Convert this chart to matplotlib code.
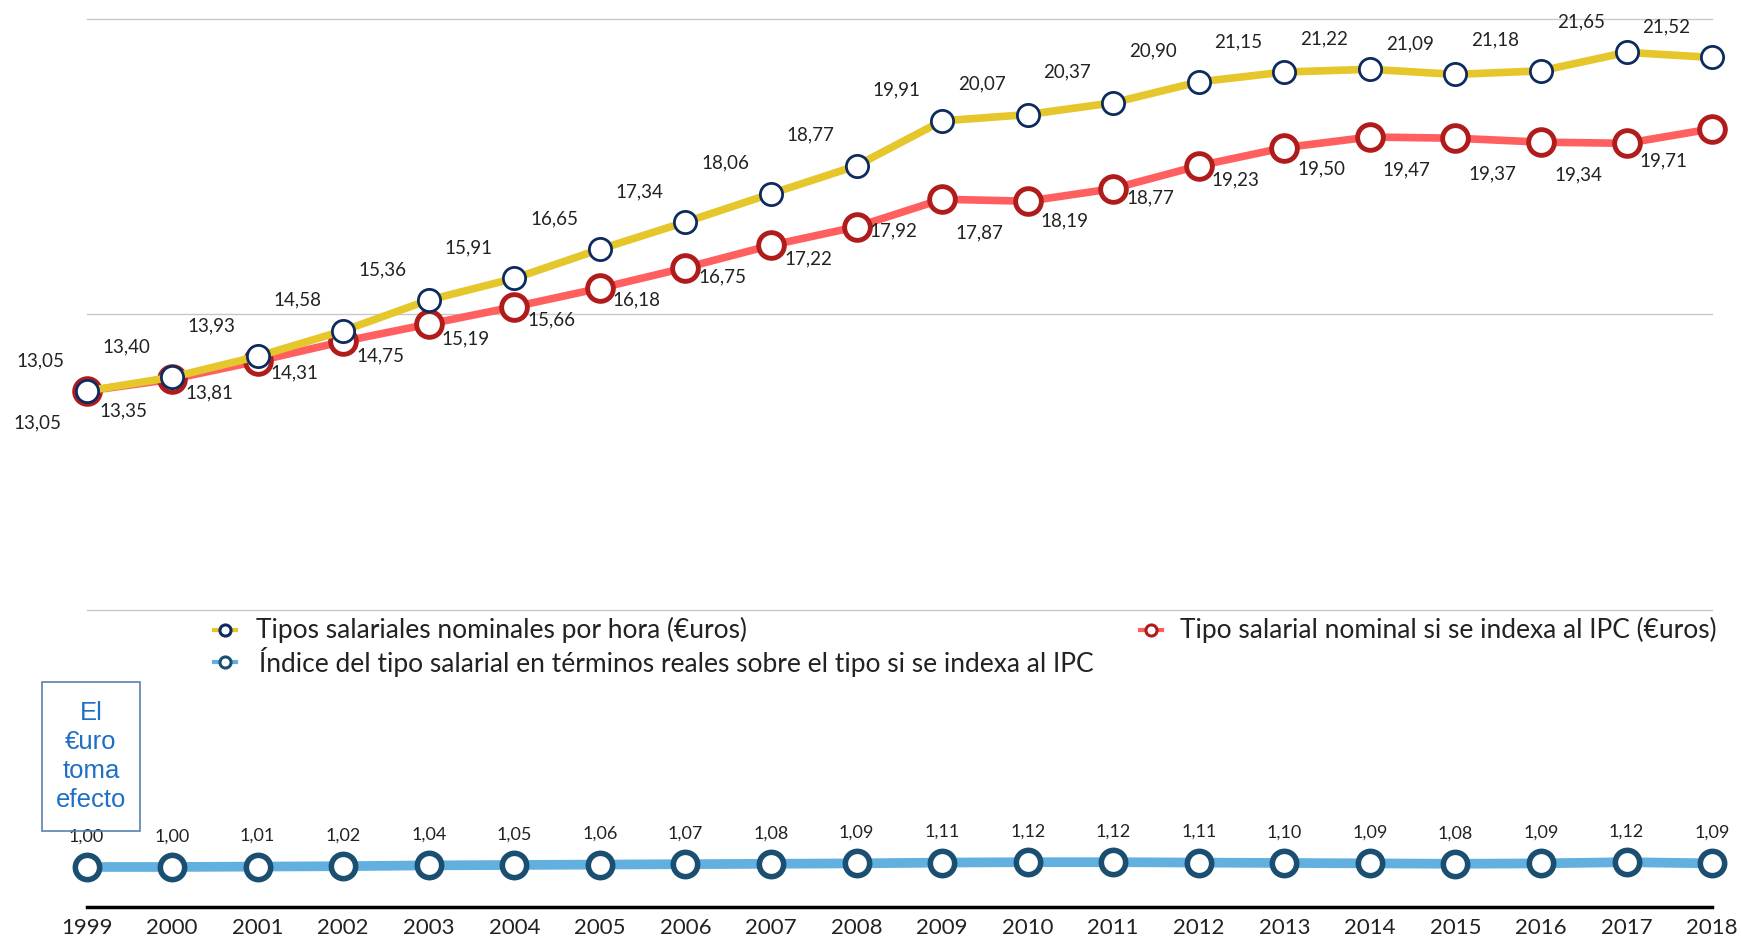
import matplotlib.pyplot as plt
from matplotlib.lines import Line2D
from matplotlib.patches import Rectangle

plt.rcParams['font.family'] = ['Lato', 'DejaVu Sans']

years = list(range(1999, 2019))
nominal = [13.05, 13.40, 13.93, 14.58, 15.36, 15.91, 16.65, 17.34, 18.06, 18.77,
           19.91, 20.07, 20.37, 20.90, 21.15, 21.22, 21.09, 21.18, 21.65, 21.52]
indexado = [13.05, 13.35, 13.81, 14.31, 14.75, 15.19, 15.66, 16.18, 16.75, 17.22,
            17.92, 17.87, 18.19, 18.77, 19.23, 19.50, 19.47, 19.37, 19.34, 19.71]
indice = [1.00, 1.00, 1.01, 1.02, 1.04, 1.05, 1.06, 1.07, 1.08, 1.09,
          1.11, 1.12, 1.12, 1.11, 1.10, 1.09, 1.08, 1.09, 1.12, 1.09]

lab_nom = "Tipos salariales nominales por hora (€uros)"
lab_ipc = "Tipo salarial nominal si se indexa al IPC (€uros)"
lab_ind = "Índice del tipo salarial en términos reales sobre el tipo si se indexa al IPC"

c_yel = '#e5c62b'
c_navy = '#0d2b5e'
c_red = '#ff5f5f'
c_dred = '#b01c1c'
c_blue = '#62b0df'
c_teal = '#1b4f72'
c_txt = '#222222'

fig = plt.figure(figsize=(17.41, 9.39), dpi=100)

# top panel
ax = fig.add_axes([0.0497, 0.3508, 0.9337, 0.6291])
ax.set_xlim(1999, 2018)
ax.set_ylim(7.5, 22.5)
for g in [7.5, 15, 22.5]:
    ax.axhline(g, color='#c8c8c8', lw=1, zorder=0, clip_on=False)
ax.plot(years, indexado, color=c_red, lw=5.5, marker='o', ms=18.5, mfc='white',
        mec=c_dred, mew=3.5, clip_on=False, zorder=3)
ax.plot(years, nominal, color=c_yel, lw=5.5, marker='o', ms=16, mfc='white',
        mec=c_navy, mew=2, clip_on=False, zorder=4)
for x, v in zip(years, nominal):
    ax.annotate(f"{v:.2f}".replace('.', ','), (x, v), xytext=(-33, 22),
                textcoords='offset points', ha='center', va='center',
                fontsize=13.5, color=c_txt)
for x, v in zip(years, indexado):
    ax.annotate(f"{v:.2f}".replace('.', ','), (x, v), xytext=(-35, -23),
                textcoords='offset points', ha='center', va='center',
                fontsize=13.5, color=c_txt)
ax.axis('off')

# bottom panel
ax2 = fig.add_axes([0.0497, 0.0341, 0.9337, 0.213])
ax2.set_xlim(1999, 2018)
ax2.set_ylim(0, 5)
ax2.plot(years, indice, color=c_blue, lw=7, marker='o', ms=17.5, mfc='white',
         mec=c_teal, mew=4, clip_on=False, zorder=3)
for x, v in zip(years, indice):
    ax2.annotate(f"{v:.2f}".replace('.', ','), (x, v), xytext=(0, 22),
                 textcoords='offset points', ha='center', va='center',
                 fontsize=13, color=c_txt)
for s in ['top', 'left', 'right']:
    ax2.spines[s].set_visible(False)
ax2.spines['bottom'].set_linewidth(2.5)
ax2.spines['bottom'].set_color('black')
ax2.set_yticks([])
ax2.set_xticks(years)
ax2.tick_params(axis='x', length=0, pad=8, labelsize=16, labelcolor=c_txt)

# legend, drawn by hand
def leg_entry(x, y, line_c, edge_c, text, tx):
    fig.add_artist(Line2D([x - 0.0062, x + 0.0062], [y, y], transform=fig.transFigure,
                          color=line_c, lw=3))
    fig.add_artist(Line2D([x], [y], transform=fig.transFigure, marker='o', ms=8,
                          mfc='white', mec=edge_c, mew=2.2, lw=0))
    fig.text(tx, y, text, ha='left', va='center', fontsize=19, color=c_txt)

leg_entry(225 / 1741, 1 - 630 / 939, c_yel, c_navy, lab_nom, 256 / 1741)
leg_entry(1151 / 1741, 1 - 630 / 939, c_red, c_dred, lab_ipc, 1180 / 1741)
leg_entry(225 / 1741, 1 - 662 / 939, c_blue, c_teal, lab_ind, 259 / 1741)

# euro box
bx0, by0, bw, bh = 42 / 1741, 1 - 831 / 939, 98 / 1741, 149 / 939
fig.add_artist(Rectangle((bx0, by0), bw, bh, transform=fig.transFigure,
                         facecolor='none', edgecolor='#5b7fb0', lw=1.2, zorder=5))
fig.text(bx0 + bw / 2, by0 + bh / 2, "El\n€uro\ntoma\nefecto", ha='center', va='center',
         fontsize=18.5, color='#1f6fc6', family=['Liberation Sans', 'DejaVu Sans'],
         linespacing=1.25)

fig.savefig('out.png', dpi=100)
